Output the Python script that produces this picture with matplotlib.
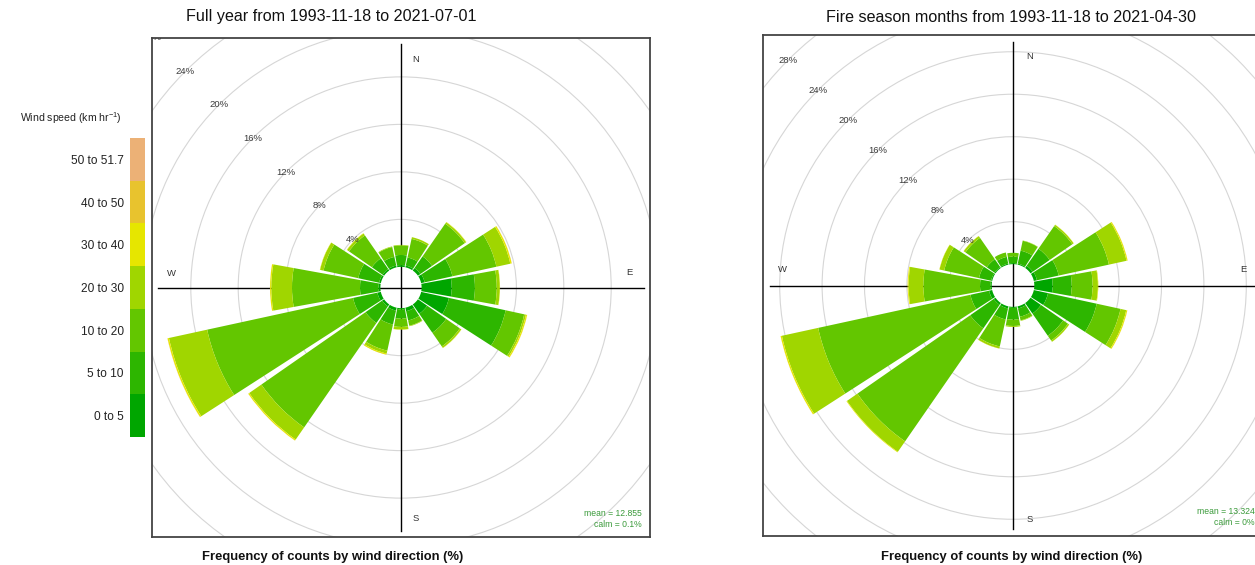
import numpy as np
import matplotlib
matplotlib.use("Agg")
import matplotlib.pyplot as plt
from matplotlib.patches import Wedge, Circle

plt.rcParams['font.family'] = ['Liberation Sans', 'DejaVu Sans']
plt.rcParams['mathtext.default'] = 'regular'

# ---------------- data ----------------
directions = [0, 22.5, 45, 67.5, 90, 112.5, 135, 157.5,
              180, 202.5, 225, 247.5, 270, 292.5, 315, 337.5]
speed_bins = ['0 to 5', '5 to 10', '10 to 20', '20 to 30',
              '30 to 40', '40 to 50', '50 to 51.7']
bin_colors = ['#00A600', '#2DB600', '#63C600', '#A0D600',
              '#E6E600', '#E8C32E', '#ECB176']

# Full year (% of counts) per speed bin, directions N..NNW
full_0_5 = [0.15, 0.15, 0.25, 0.30, 2.54, 2.40, 0.95, 0.30, 0.10, 0.25, 0.20, 0.30, 0.15, 0.15, 0.15, 0.15]
full_5_10 = [0.85, 0.70, 1.20, 2.40, 1.96, 4.90, 1.95, 0.80, 0.78, 1.20, 1.70, 2.10, 1.57, 1.80, 1.10, 0.75]
full_10_20 = [0.80, 1.60, 3.35, 3.80, 1.84, 1.60, 1.40, 0.45, 0.70, 2.25, 10.70, 12.60, 5.74, 3.00, 2.35, 0.85]
full_20_30 = [0.05, 0.15, 0.15, 1.20, 0.26, 0.15, 0.15, 0.05, 0.22, 0.25, 1.25, 3.30, 1.75, 0.30, 0.20, 0.05]
full_30_40 = [0, 0, 0.03, 0.12, 0.02, 0.10, 0.02, 0, 0.02, 0.10, 0.10, 0.12, 0.10, 0.02, 0.03, 0]
full_40_50 = [0, 0, 0, 0.01, 0, 0.01, 0, 0, 0, 0, 0.01, 0.01, 0.01, 0, 0, 0]
full_50_52 = [0, 0, 0, 0, 0, 0, 0, 0, 0, 0, 0, 0.005, 0, 0, 0, 0]

# Fire season months
fire_0_5 = [0.10, 0.10, 0.25, 0.30, 1.73, 1.37, 1.20, 0.20, 0.10, 0.20, 0.20, 0.30, 0.10, 0.10, 0.10, 0.10]
fire_5_10 = [0.60, 1.25, 1.95, 2.10, 1.80, 4.70, 2.55, 0.80, 1.10, 1.06, 2.70, 1.80, 1.00, 1.17, 0.90, 0.65]
fire_10_20 = [0.37, 0.95, 2.60, 4.85, 1.97, 2.30, 0.55, 0.35, 0.60, 2.60, 12.95, 14.70, 5.35, 3.36, 2.45, 0.42]
fire_20_30 = [0, 0.03, 0.15, 1.70, 0.50, 0.55, 0.14, 0.05, 0.09, 0.19, 1.20, 3.50, 1.40, 0.45, 0.20, 0]
fire_30_40 = [0, 0, 0.02, 0.10, 0.04, 0.10, 0.01, 0, 0, 0.02, 0.06, 0.12, 0.08, 0.02, 0.02, 0]
fire_40_50 = [0, 0, 0, 0.01, 0, 0.01, 0, 0, 0, 0, 0, 0.01, 0, 0, 0, 0]
fire_50_52 = [0] * 16

ring_levels = [4, 8, 12, 16, 20, 24, 28, 32]

full_title = 'Full year from 1993-11-18 to 2021-07-01'
fire_title = 'Fire season months from 1993-11-18 to 2021-04-30'
full_mean, full_calm = 'mean = 12.855', 'calm = 0.1%'
fire_mean, fire_calm = 'mean = 13.324', 'calm = 0%'
xlab = 'Frequency of counts by wind direction (%)'

# ---------------- figure ----------------
W, H = 1255, 565
fig = plt.figure(figsize=(W / 100, H / 100), dpi=100)


def fx(px):
    return px / W


def fy(py):
    return 1 - py / H


def rose(ax, bins, half_px, scale, off_px, mean_txt, calm_txt, line_px, lab_px):
    L = half_px / scale
    off = off_px / scale
    ax.set_xlim(-L, L)
    ax.set_ylim(-L, L)
    ax.set_xticks([])
    ax.set_yticks([])
    for s in ax.spines.values():
        s.set_color('#444444')
        s.set_linewidth(1.3)
    # rings
    for k in ring_levels:
        ax.add_patch(Circle((0, 0), off + k, fill=False, ec='#d6d6d6', lw=0.8, zorder=1))
        r = off + k
        ax.text(-r * np.sin(np.pi / 4), r * np.cos(np.pi / 4), f'{k}%', fontsize=6.8,
                color='#3a3a3a', ha='center', va='center', zorder=5, clip_on=True)
    # cross lines
    ll = line_px / scale
    ax.plot([-ll, ll], [0, 0], color='black', lw=1.0, zorder=2)
    ax.plot([0, 0], [-ll, ll], color='black', lw=1.0, zorder=2)
    # compass labels
    lp = np.array(lab_px) / scale
    for (x, y), t in zip(lp, ['N', 'E', 'S', 'W']):
        ax.text(x, y, t, fontsize=6.8, color='#333333', ha='center', va='center',
                zorder=5, clip_on=True)
    # wedges
    data = np.array(bins)
    cum = np.cumsum(data, axis=0)
    half = 22.5 / 2 - 1
    for j, d in enumerate(directions):
        for b in range(data.shape[0]):
            v = data[b, j]
            if v <= 0:
                continue
            outer = off + cum[b, j]
            ax.add_patch(Wedge((0, 0), outer, 90 - d - half, 90 - d + half,
                               width=v, facecolor=bin_colors[b], edgecolor='none',
                               lw=0, zorder=3))
    ax.text(0.984, 0.048, mean_txt, transform=ax.transAxes, fontsize=6.2,
            color='#3a9a3a', ha='right', va='center', zorder=6)
    ax.text(0.984, 0.026, calm_txt, transform=ax.transAxes, fontsize=6.2,
            color='#3a9a3a', ha='right', va='center', zorder=6)


ax1 = fig.add_axes([fx(152), fy(537), fx(498), 499 / H])
rose(ax1, [full_0_5, full_5_10, full_10_20, full_20_30, full_30_40, full_40_50, full_50_52],
     249, 11.85, 20.6, full_mean, full_calm, 243,
     [(15, 227.5), (228, 15), (15, -231), (-230, 14)])

ax2 = fig.add_axes([fx(763), fy(536), fx(500), 501 / H])
rose(ax2, [fire_0_5, fire_5_10, fire_10_20, fire_20_30, fire_30_40, fire_40_50, fire_50_52],
     250, 10.6, 21.3, fire_mean, fire_calm, 243,
     [(17, 229), (230, 16), (17, -234), (-231, 16)])

# legend (colour key)
axl = fig.add_axes([fx(130), fy(437), fx(15), 299 / H])
for i, c in enumerate(bin_colors):
    axl.bar(0, 1, bottom=i, width=1, color=c, lw=0)
axl.set_xlim(-0.5, 0.5)
axl.set_ylim(0, len(bin_colors))
axl.set_xticks([])
axl.set_yticks(np.arange(len(speed_bins)) + 0.5)
axl.set_yticklabels(speed_bins, fontsize=8.6, color='#222222')
axl.tick_params(axis='y', length=0, pad=4.5)
for s in axl.spines.values():
    s.set_visible(False)
fig.text(fx(122), fy(118), 'Wind speed (km hr$^{-1}$)', ha='right', va='center',
         fontsize=7.6, color='#222222')

# titles and axis labels
fig.text(fx(331), fy(17), full_title, ha='center', va='center', fontsize=11.6, color='#111111')
fig.text(fx(1011), fy(17), fire_title, ha='center', va='center', fontsize=11.6, color='#111111')
fig.text(fx(333), fy(557), xlab, ha='center', va='center', fontsize=9.4,
         fontweight='bold', color='#111111')
fig.text(fx(1012), fy(557), xlab, ha='center', va='center', fontsize=9.4,
         fontweight='bold', color='#111111')

fig.savefig('out.png', dpi=100)
